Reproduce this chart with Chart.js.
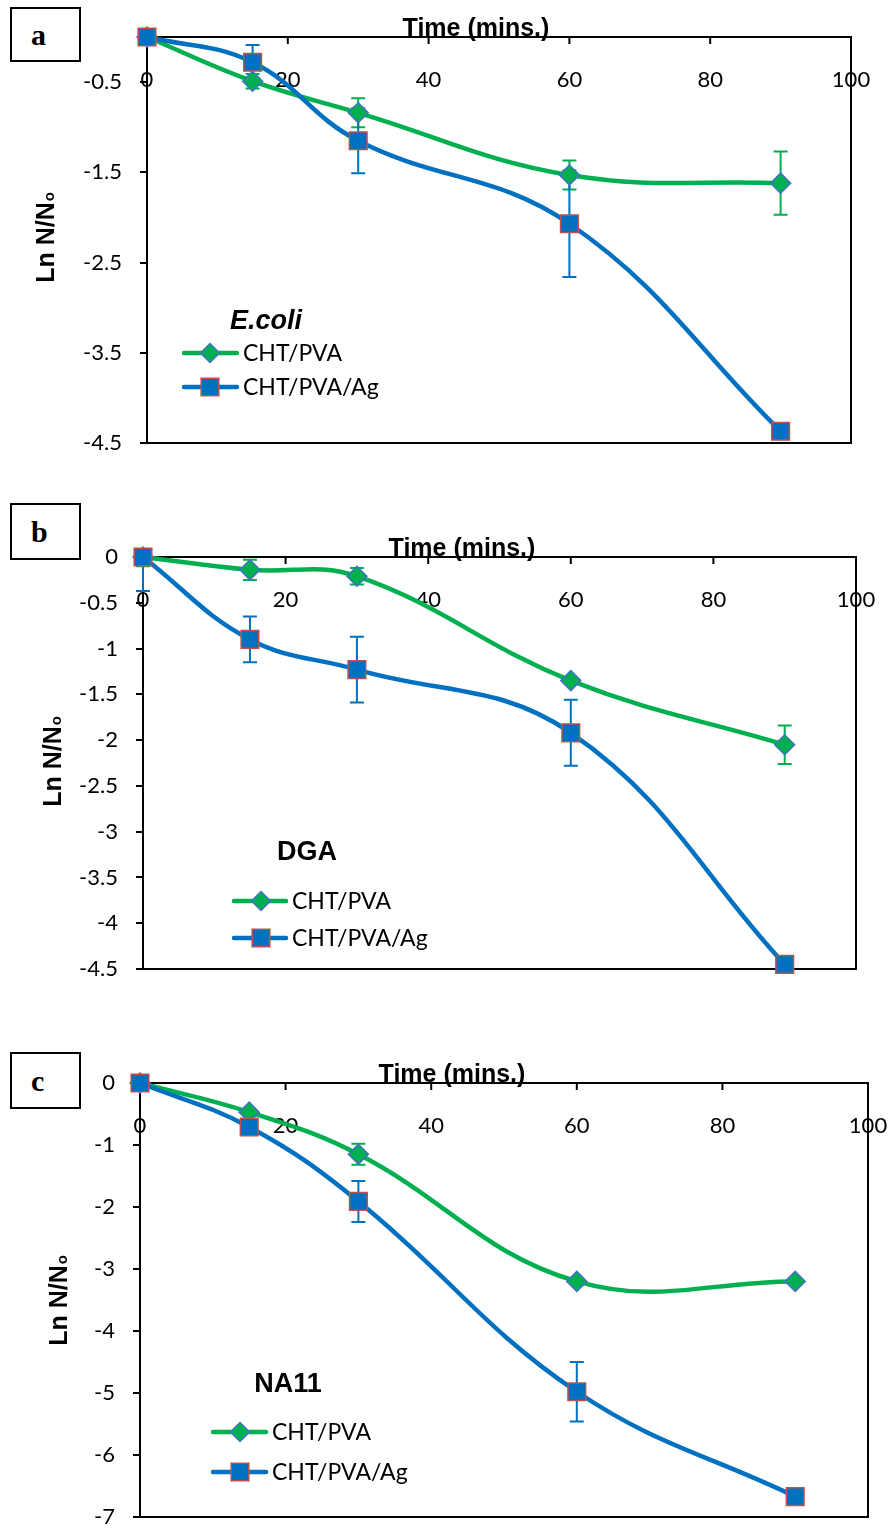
<!DOCTYPE html>
<html>
<head>
<meta charset="utf-8">
<script src="https://cdn.jsdelivr.net/npm/chart.js@4.4.1/dist/chart.umd.min.js"></script>
<style>
body{margin:0;background:#fff;width:892px;height:1531px;position:relative;overflow:hidden;}
canvas{position:absolute;left:0;}
.tag{position:absolute;left:10px;width:71px;box-sizing:border-box;border:2px solid #000;
  font:bold 30px "Liberation Serif",serif;padding-left:19px;display:flex;align-items:center;background:#fff;z-index:2;}
</style>
</head>
<body>
<div class="tag" style="top:7px;height:55px">a</div>
<div class="tag" style="top:503px;height:57px">b</div>
<div class="tag" style="top:1052px;height:57px">c</div>
<canvas id="chartA" width="892" height="490" style="top:0px"></canvas>
<canvas id="chartB" width="892" height="505" style="top:490px"></canvas>
<canvas id="chartC" width="892" height="536" style="top:995px"></canvas>
<script>
// x values shared by all panels
const timeMins = [0, 15, 30, 60, 90];
const xTicks = [0, 20, 40, 60, 80, 100];
const seriesNames = ["CHT/PVA", "CHT/PVA/Ag"];

// (a) E.coli
const ecoliPva    = [0, -0.49, -0.84, -1.53, -1.62];
const ecoliPvaErr = [0, 0.08, 0.16, 0.16, 0.35];
const ecoliAg     = [0, -0.28, -1.15, -2.07, -4.37];
const ecoliAgErr  = [0, 0.19, 0.36, 0.59, 0];
const yTicksA = [-4.5, -3.5, -2.5, -1.5, -0.5];

// (b) DGA
const dgaPva    = [0, -0.14, -0.21, -1.35, -2.05];
const dgaPvaErr = [0.1, 0.11, 0.09, 0.03, 0.21];
const dgaAg     = [0, -0.9, -1.23, -1.92, -4.45];
const dgaAgErr  = [0.37, 0.25, 0.36, 0.36, 0];
const yTicksB = [-4.5, -4, -3.5, -3, -2.5, -2, -1.5, -1, -0.5, 0];

// (c) NA11
const na11Pva    = [0, -0.47, -1.15, -3.2, -3.2];
const na11PvaErr = [0, 0.05, 0.17, 0.05, 0.05];
const na11Ag     = [0, -0.71, -1.91, -4.98, -6.67];
const na11AgErr  = [0, 0, 0.33, 0.48, 0];
const yTicksC = [-7, -6, -5, -4, -3, -2, -1, 0];

const GREEN = "#00B050", BLUE = "#0070C0";
const GREEN_EDGE = "#4472C4", BLUE_EDGE = "#C0504D";

function pts(vals){
    return timeMins.map((t,i)=>({x:t, y:vals[i]}));
}

function drawMarker(ctx, style, x, y, r, fill, stroke){
    ctx.beginPath();
    if(style === "rectRot"){
        ctx.moveTo(x, y-r); ctx.lineTo(x+r, y); ctx.lineTo(x, y+r); ctx.lineTo(x-r, y);
        ctx.closePath();
    } else {
        const s = r*Math.SQRT1_2;
        ctx.rect(x-s, y-s, 2*s, 2*s);
    }
    ctx.fillStyle = fill; ctx.fill();
    ctx.lineWidth = 1.5; ctx.strokeStyle = stroke; ctx.stroke();
}

// no extra padding from the scales: the plot box is fixed by layout.padding
function noPad(s){
    s.paddingLeft = 0; s.paddingRight = 0; s.paddingTop = 0; s.paddingBottom = 0;
}

function decorFor(p){
    return {
        id: "decor",
        beforeDatasetsDraw(chart){
            const {ctx, chartArea:a, scales:{x, y}} = chart;
            ctx.save();
            ctx.strokeStyle = "#000"; ctx.lineWidth = 2;
            ctx.strokeRect(a.left, a.top, a.right-a.left, a.bottom-a.top);
            // inside tick marks on the top axis
            xTicks.forEach(v=>{
                const px = x.getPixelForValue(v);
                ctx.beginPath(); ctx.moveTo(px, a.top); ctx.lineTo(px, a.top+7); ctx.stroke();
            });
            // error bars
            ctx.beginPath(); ctx.rect(a.left-10, a.top, a.right-a.left+20, a.bottom-a.top); ctx.clip();
            chart.data.datasets.forEach(ds=>{
                ctx.strokeStyle = ds.borderColor; ctx.lineWidth = 2;
                ds.data.forEach((d,j)=>{
                    const e = ds.errors[j];
                    if(!e) return;
                    const px = x.getPixelForValue(d.x);
                    const y1 = y.getPixelForValue(d.y+e), y2 = y.getPixelForValue(d.y-e);
                    ctx.beginPath();
                    ctx.moveTo(px, y1); ctx.lineTo(px, y2);
                    ctx.moveTo(px-7, y1); ctx.lineTo(px+7, y1);
                    ctx.moveTo(px-7, y2); ctx.lineTo(px+7, y2);
                    ctx.stroke();
                });
            });
            ctx.restore();
        },
        afterDraw(chart){
            const ctx = chart.ctx;
            const off = p.top;
            ctx.save();
            ctx.fillStyle = "#000";
            // x axis title
            ctx.font = 'bold 25px "Liberation Sans", Arial, sans-serif';
            ctx.textAlign = "center"; ctx.textBaseline = "alphabetic";
            ctx.fillText("Time (mins.)", p.timeTitle.x, p.plot.top - off - 1);
            // y axis title with subscript o
            ctx.save();
            ctx.translate(p.yTitle.x, p.yTitle.y - off);
            ctx.rotate(-Math.PI/2);
            const big = 'bold 25px "Liberation Sans", Arial, sans-serif';
            const small = 'bold 15px "Liberation Sans", Arial, sans-serif';
            ctx.font = big; const w1 = ctx.measureText("Ln N/N").width;
            ctx.font = small; const w2 = ctx.measureText("o").width;
            const x0 = -(w1+w2)/2;
            ctx.textAlign = "left";
            ctx.font = big; ctx.fillText("Ln N/N", x0, 9);
            ctx.font = small; ctx.fillText("o", x0+w1+1, 9);
            ctx.restore();
            // species label
            ctx.font = (p.species.italic ? "italic " : "") + 'bold 27px "Liberation Sans", Arial, sans-serif';
            ctx.textAlign = "center"; ctx.textBaseline = "middle";
            ctx.fillText(p.species.text, p.species.x, p.species.y - off);
            // legend
            const lg = p.legend;
            chart.data.datasets.slice().sort((a,b)=>a.legendRow-b.legendRow).forEach((ds,i)=>{
                const ly = lg.rows[i] - off;
                ctx.strokeStyle = ds.borderColor; ctx.lineWidth = 4.5; ctx.lineCap = "round";
                ctx.beginPath(); ctx.moveTo(lg.x0, ly); ctx.lineTo(lg.x1, ly); ctx.stroke();
                drawMarker(ctx, ds.pointStyle, lg.mx, ly, ds.legendR, ds.pointBackgroundColor, ds.pointBorderColor);
                ctx.fillStyle = "#000";
                ctx.font = '23px Lato, "Open Sans", sans-serif';
                ctx.textAlign = "left"; ctx.textBaseline = "middle";
                ctx.fillText(ds.label, lg.tx, ly+1);
            });
            ctx.restore();
        }
    };
}

function makePanel(id, p){
    new Chart(document.getElementById(id), {
        type: "line",
        data: {
            datasets: [
                {
                    label: seriesNames[0], legendRow: 0, legendR: 9.5,
                    data: pts(p.pva), errors: p.pvaErr,
                    borderColor: GREEN, backgroundColor: GREEN,
                    pointBackgroundColor: GREEN, pointBorderColor: GREEN_EDGE, pointBorderWidth: 1.5,
                    pointStyle: "rectRot", pointRadius: 10, borderWidth: 4.5,
                    tension: 0.4, clip: false, order: 2
                },
                {
                    label: seriesNames[1], legendRow: 1, legendR: 12.5,
                    data: pts(p.ag), errors: p.agErr,
                    borderColor: BLUE, backgroundColor: BLUE,
                    pointBackgroundColor: BLUE, pointBorderColor: BLUE_EDGE, pointBorderWidth: 1.5,
                    pointStyle: "rect", pointRadius: 12.5, borderWidth: 4.5,
                    tension: 0.4, clip: false, order: 1
                }
            ]
        },
        options: {
            responsive: false,
            animation: false,
            events: [],
            layout: {
                padding: {
                    left: 0, top: 0,
                    right: 892 - p.plot.right,
                    bottom: p.height - (p.plot.bottom - p.top)
                }
            },
            plugins: {legend: {display: false}, tooltip: {enabled: false}},
            scales: {
                x: {
                    type: "linear", position: "top", min: 0, max: 100,
                    afterFit: s => { s.height = p.plot.top - p.top; noPad(s); },
                    afterBuildTicks: s => { s.ticks = xTicks.map(v=>({value:v})); },
                    ticks: {mirror: true, padding: 30, color: "#000",
                        font: {family: "Lato", size: 22}, callback: v => String(v)},
                    grid: {drawOnChartArea: false, drawTicks: false},
                    border: {color: "#000", width: 2}
                },
                y: {
                    type: "linear", min: p.yMin, max: 0,
                    afterFit: s => { s.width = p.plot.left; noPad(s); },
                    afterBuildTicks: s => { s.ticks = p.yTicks.map(v=>({value:v})); },
                    ticks: {padding: 18, color: "#000",
                        font: {family: "Lato", size: 22}, callback: v => String(v)},
                    grid: {drawOnChartArea: false, drawTicks: true, tickLength: 7, color: "#000", lineWidth: 2},
                    border: {color: "#000", width: 2}
                }
            }
        },
        plugins: [decorFor(p)]
    });
}

makePanel("chartA", {
    top: 0, height: 490,
    plot: {left: 147, top: 37, right: 851, bottom: 443},
    yMin: -4.5, yTicks: yTicksA,
    pva: ecoliPva, pvaErr: ecoliPvaErr, ag: ecoliAg, agErr: ecoliAgErr,
    timeTitle: {x: 476}, yTitle: {x: 45, y: 238},
    species: {text: "E.coli", italic: true, x: 266, y: 322},
    legend: {x0: 184, x1: 237, mx: 210, tx: 243, rows: [353, 387]}
});

makePanel("chartB", {
    top: 490, height: 505,
    plot: {left: 143, top: 557, right: 856, bottom: 969},
    yMin: -4.5, yTicks: yTicksB,
    pva: dgaPva, pvaErr: dgaPvaErr, ag: dgaAg, agErr: dgaAgErr,
    timeTitle: {x: 462}, yTitle: {x: 52, y: 762},
    species: {text: "DGA", italic: false, x: 307, y: 853},
    legend: {x0: 234, x1: 286, mx: 261, tx: 292, rows: [901, 938]}
});

makePanel("chartC", {
    top: 995, height: 536,
    plot: {left: 140, top: 1083, right: 868, bottom: 1519},
    yMin: -7, yTicks: yTicksC,
    pva: na11Pva, pvaErr: na11PvaErr, ag: na11Ag, agErr: na11AgErr,
    timeTitle: {x: 452}, yTitle: {x: 58, y: 1301},
    species: {text: "NA11", italic: false, x: 288, y: 1385},
    legend: {x0: 213, x1: 266, mx: 240, tx: 272, rows: [1432, 1472]}
});
</script>
</body>
</html>
